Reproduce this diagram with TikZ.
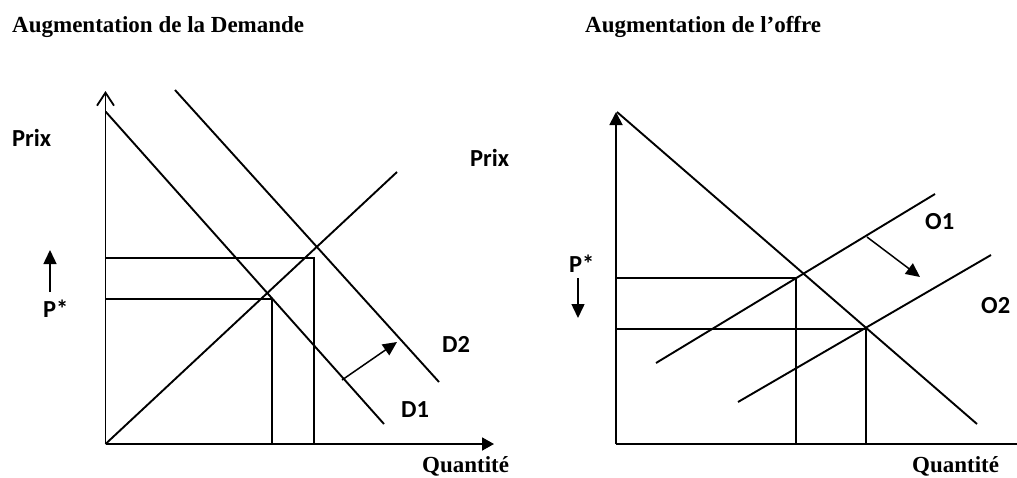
\documentclass[tikz,border=0pt]{standalone}
\usepackage{fontspec}
\setmainfont{Liberation Serif}
\newfontfamily\lblfont{Carlito}
\usetikzlibrary{arrows.meta}
\begin{document}
\begin{tikzpicture}[x=1pt,y=-1pt,
  curve/.style={line width=1.9pt},
  axis/.style={line width=1.8pt},
  guide/.style={line width=2pt},
  shiftarrow/.style={line width=1.5pt,-{Triangle[length=14pt,width=13pt]}},
  ttl/.style={anchor=base west,inner sep=0pt,font=\bfseries\fontsize{23}{27}\selectfont},
  lab/.style={anchor=base west,inner sep=0pt,font=\lblfont\bfseries\fontsize{24.5}{28}\selectfont}]
\useasboundingbox (0,0) rectangle (1017,477);

% ---------- titles ----------
\node[ttl] (t1) at (12,32) {Augmentation de la Demande};
\node[ttl] (t2) at (585,32) {Augmentation de l’offre};

% ---------- left chart ----------
\coordinate (LO) at (105.5,444);
\coordinate (LYtop) at (105.5,91);
\coordinate (LXend) at (494,444);
\draw[axis,-{Straight Barb[length=13pt,width=17pt]}] (LO) -- (LYtop);
\draw[axis,-{Triangle[length=12pt,width=13pt]}] (LO) -- (LXend);

\coordinate (D1a) at (105.7,111.7);
\coordinate (D1b) at (384,424);
\coordinate (D2a) at (175,90);
\coordinate (D2b) at (439,382);
\coordinate (Sa) at (105.5,444);
\coordinate (Sb) at (397,172);
\draw[curve] (D1a) -- (D1b);
\draw[curve] (D2a) -- (D2b);
\draw[curve] (Sa) -- (Sb);

\coordinate (LH1a) at (105.5,258);
\coordinate (LH1c) at (314,258);
\coordinate (LH1d) at (314,444);
\coordinate (LH2a) at (105.5,299);
\coordinate (LH2c) at (272,299);
\coordinate (LH2d) at (272,444);
\draw[guide] (LH1a) -- (LH1c) -- (LH1d);
\draw[guide] (LH2a) -- (LH2c) -- (LH2d);

\coordinate (LSa) at (342,380);
\coordinate (LSb) at (397,342);
\draw[shiftarrow] (LSa) -- (LSb);

\coordinate (LPa) at (50,292);
\coordinate (LPb) at (50,250);
\draw[shiftarrow] (LPa) -- (LPb);

\node[lab] (prixL) at (12,146) {Prix};
\node[lab] (prixR) at (470,166) {Prix};
\node[lab] (d2) at (442,352) {D2};
\node[lab] (d1) at (401,417) {D1};
\node[lab] (pL) at (43,317) {P*};
\node[ttl] (qL) at (422,472) {Quantité};

% ---------- right chart ----------
\coordinate (RO) at (616,444);
\coordinate (RYtop) at (616,112);
\coordinate (RXend) at (1017,444);
\draw[axis,-{Triangle[length=13pt,width=13pt]}] (RO) -- (RYtop);
\draw[axis] (RO) -- (RXend);

\coordinate (Da) at (617,112);
\coordinate (Db) at (977,424);
\coordinate (O1a) at (656,363);
\coordinate (O1b) at (935,194);
\coordinate (O2a) at (738,402);
\coordinate (O2b) at (991,255);
\draw[curve] (Da) -- (Db);
\draw[curve] (O1a) -- (O1b);
\draw[curve] (O2a) -- (O2b);

\coordinate (RH1a) at (616,278);
\coordinate (RH1c) at (796,278);
\coordinate (RH1d) at (796,444);
\coordinate (RH2a) at (616,329);
\coordinate (RH2c) at (866,329);
\coordinate (RH2d) at (866,444);
\draw[guide] (RH1a) -- (RH1c) -- (RH1d);
\draw[guide] (RH2a) -- (RH2c) -- (RH2d);

\coordinate (RSa) at (867,237);
\coordinate (RSb) at (920,277);
\draw[shiftarrow] (RSa) -- (RSb);

\coordinate (RPa) at (578,278);
\coordinate (RPb) at (578,318);
\draw[shiftarrow] (RPa) -- (RPb);

\node[lab] (pR) at (569,272) {P*};
\node[lab] (o1) at (925,229) {O1};
\node[lab] (o2) at (981,313) {O2};
\node[ttl] (qR) at (912,472) {Quantité};
\end{tikzpicture}
\end{document}
